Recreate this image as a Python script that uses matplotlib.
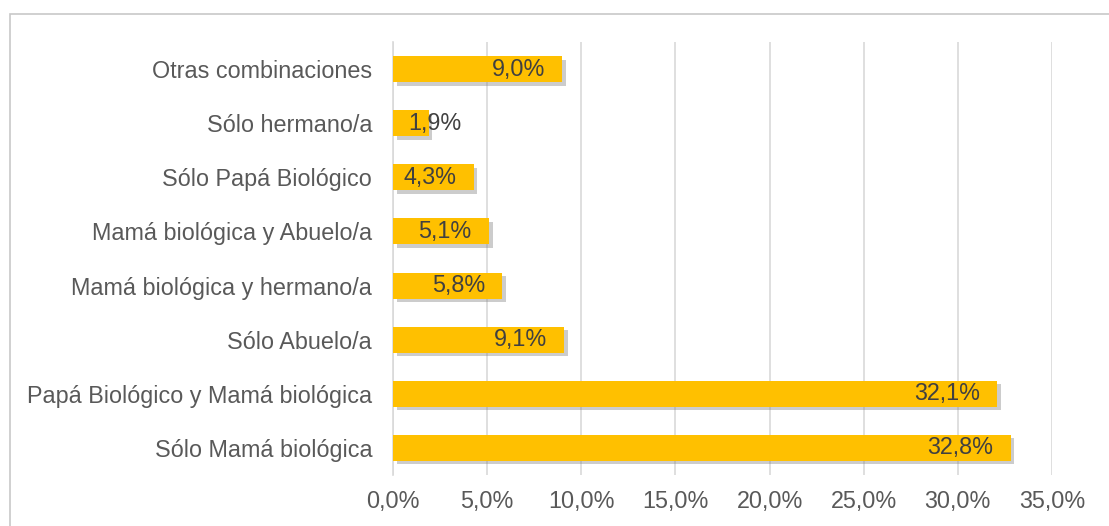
import matplotlib.pyplot as plt
import matplotlib.patheffects as pe
from matplotlib.patches import Rectangle

plt.rcParams['font.family'] = ['Liberation Sans', 'DejaVu Sans']

# Data (bottom to top)
categories = ['Sólo Mamá biológica', 'Papá Biológico y Mamá biológica', 'Sólo Abuelo/a',
              'Mamá biológica y hermano/a', 'Mamá biológica y Abuelo/a',
              'Sólo Papá Biológico', 'Sólo hermano/a', 'Otras combinaciones']
values = [32.8, 32.1, 9.1, 5.8, 5.1, 4.3, 1.9, 9.0]
xticks = [0, 5, 10, 15, 20, 25, 30, 35]

fs = 16.8

fig = plt.figure(figsize=(11.09, 5.26), dpi=100)
ax = fig.add_axes([0.3544, 0.097, 0.5942, 0.823])

# outer frame
fig.patches.append(Rectangle((10 / 1109, -0.1), 1.2, 1 - 14 / 526 + 0.1,
                             transform=fig.transFigure, fill=False,
                             edgecolor='#c8c8c8', linewidth=1.2))

ypos = list(range(len(categories)))
bars = ax.barh(ypos, values, height=0.48, color='#FFC000', zorder=3)
for b in bars:
    b.set_path_effects([pe.SimplePatchShadow(offset=(2.5, -2.5), shadow_rgbFace='#808080', alpha=0.4),
                        pe.Normal()])

for y, v in zip(ypos, values):
    lab = f'{v:.1f}%'.replace('.', ',')
    if v < 3:
        ax.annotate(lab, (0, y), xytext=(11, 0), textcoords='offset points',
                    ha='left', va='center', fontsize=fs, color='#404040', zorder=4)
    else:
        ax.annotate(lab, (v, y), xytext=(-12.5, 0), textcoords='offset points',
                    ha='right', va='center', fontsize=fs, color='#404040', zorder=4)

ax.set_xlim(0, 35)
ax.set_ylim(-0.5, len(categories) - 0.5)
ax.set_xticks(xticks)
ax.set_xticklabels([f'{t:.1f}%'.replace('.', ',') for t in xticks])
ax.set_yticks(ypos)
ax.set_yticklabels(categories)
ax.tick_params(axis='both', length=0, labelsize=fs, labelcolor='#595959')
ax.tick_params(axis='y', pad=15)
ax.tick_params(axis='x', pad=11)
ax.grid(axis='x', color='#d9d9d9', linewidth=1.2, zorder=0)
for s in ['top', 'right', 'bottom']:
    ax.spines[s].set_visible(False)
ax.spines['left'].set_color('#d9d9d9')
ax.spines['left'].set_linewidth(1.2)

fig.savefig('out.png', dpi=100)
